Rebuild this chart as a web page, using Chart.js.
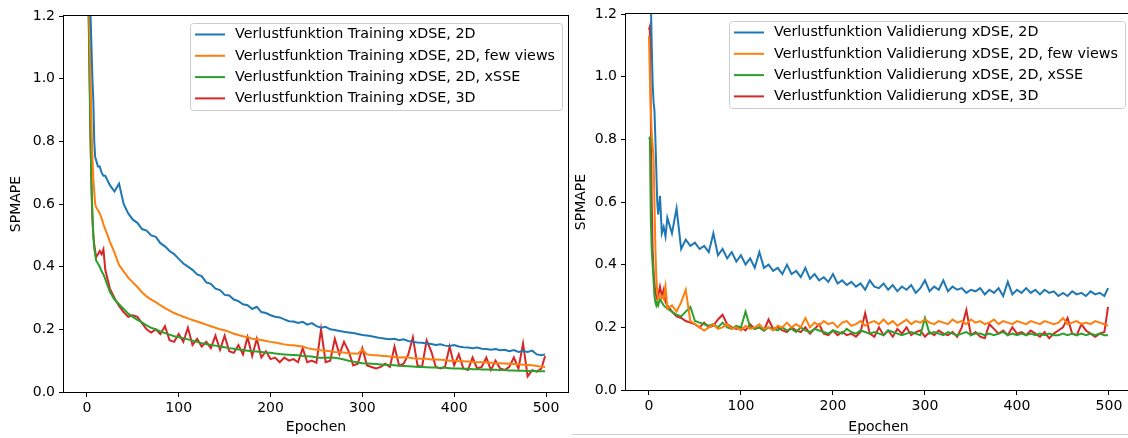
<!DOCTYPE html>
<html>
<head>
<meta charset="utf-8">
<script src="https://cdn.jsdelivr.net/npm/chart.js@4.4.1/dist/chart.umd.min.js"></script>
<style>
  html, body { margin: 0; padding: 0; background: #fff; overflow: hidden; width: 1128px; height: 438px; }
  #left { position: absolute; left: 0; top: 0; }
  #right { position: absolute; left: 570px; top: 0; }
  #rule { position: absolute; left: 572px; top: 434px; width: 556px; height: 1px; background: #d0d0d0; }
</style>
</head>
<body>
<canvas id="left" width="570" height="438"></canvas>
<canvas id="right" width="562" height="438"></canvas>
<div id="rule"></div>
<script>
// epochs sampled from the curves (denser at the start where they drop fast)
const epochs = [0,1,2,3,4,5,6,7,8,9,10, 12,14,16,18,20,
  25,30,35,40,45,50,55,60,65,70,75,80,85,90,95,100,
  105,110,115,120,125,130,135,140,145,150,155,160,165,170,175,180,185,190,195,200,
  205,210,215,220,225,230,235,240,245,250,255,260,265,270,275,280,285,290,295,300,
  305,310,315,320,325,330,335,340,345,350,355,360,365,370,375,380,385,390,395,400,
  405,410,415,420,425,430,435,440,445,450,455,460,465,470,475,480,485,490,495,499];

const xTicks = [0, 100, 200, 300, 400, 500];
const yTicks = [0, 0.2, 0.4, 0.6, 0.8, 1.0, 1.2];

const trainNames = [
  'Verlustfunktion Training xDSE, 2D',
  'Verlustfunktion Training xDSE, 2D, few views',
  'Verlustfunktion Training xDSE, 2D, xSSE',
  'Verlustfunktion Training xDSE, 3D'];
const valNames = [
  'Verlustfunktion Validierung xDSE, 2D',
  'Verlustfunktion Validierung xDSE, 2D, few views',
  'Verlustfunktion Validierung xDSE, 2D, xSSE',
  'Verlustfunktion Validierung xDSE, 3D'];

// training losses
const train2d = [1.7,1.55,1.42,1.3,1.2,1.1,1.0,0.93,0.8,0.75,0.74,
  0.72,0.72,0.70,0.69,0.69,
  0.66,0.64,0.665,0.60,0.57,0.55,0.54,0.52,0.515,0.50,0.495,0.475,0.465,0.45,0.44,0.425,
  0.41,0.40,0.39,0.375,0.37,0.35,0.345,0.33,0.325,0.31,0.308,0.295,0.29,0.28,0.277,0.265,0.272,0.255,0.252,0.245,
  0.24,0.238,0.232,0.226,0.225,0.22,0.224,0.215,0.22,0.21,0.205,0.208,0.2,0.198,0.195,0.192,0.19,0.188,0.185,0.182,
  0.18,0.178,0.175,0.172,0.17,0.168,0.17,0.165,0.168,0.163,0.16,0.158,0.157,0.155,0.153,0.15,0.152,0.148,0.147,0.15,
  0.145,0.143,0.142,0.14,0.142,0.138,0.137,0.135,0.137,0.133,0.135,0.13,0.134,0.128,0.131,0.128,0.132,0.12,0.117,0.12];
const train2dFew = [1.6,1.45,1.3,1.15,1.0,0.85,0.75,0.68,0.64,0.6,0.59,
  0.58,0.57,0.555,0.535,0.52,
  0.48,0.445,0.405,0.385,0.365,0.35,0.335,0.318,0.305,0.295,0.287,0.277,0.268,0.26,0.252,0.246,
  0.24,0.235,0.23,0.225,0.22,0.215,0.21,0.205,0.2,0.197,0.192,0.186,0.182,0.178,0.175,0.17,0.168,0.166,0.163,0.16,
  0.158,0.155,0.152,0.15,0.149,0.147,0.145,0.14,0.137,0.135,0.133,0.132,0.13,0.128,0.127,0.126,0.124,0.123,0.122,0.135,
  0.12,0.118,0.117,0.116,0.115,0.113,0.112,0.11,0.111,0.11,0.108,0.107,0.106,0.106,0.104,0.104,0.103,0.102,0.1,0.1,
  0.098,0.098,0.097,0.096,0.095,0.095,0.094,0.093,0.092,0.092,0.091,0.09,0.089,0.088,0.087,0.086,0.085,0.083,0.081,0.08];
const train2dSse = [1.6,1.38,1.18,0.98,0.8,0.66,0.57,0.5,0.46,0.44,0.42,
  0.41,0.40,0.385,0.375,0.36,
  0.32,0.295,0.28,0.265,0.25,0.24,0.23,0.222,0.213,0.205,0.2,0.193,0.188,0.183,0.178,0.175,
  0.172,0.168,0.164,0.16,0.156,0.153,0.15,0.148,0.145,0.143,0.14,0.138,0.136,0.134,0.132,0.13,0.129,0.128,0.126,0.125,
  0.123,0.121,0.12,0.119,0.118,0.117,0.115,0.114,0.113,0.11,0.109,0.109,0.11,0.109,0.107,0.104,0.1,0.097,0.094,0.092,
  0.091,0.09,0.089,0.088,0.087,0.086,0.085,0.084,0.083,0.082,0.081,0.08,0.08,0.079,0.078,0.078,0.077,0.077,0.076,0.075,
  0.075,0.074,0.074,0.073,0.073,0.072,0.072,0.071,0.071,0.07,0.07,0.069,0.069,0.068,0.068,0.067,0.067,0.066,0.066,0.066];
const train3d = [1.6,1.4,1.2,1.0,0.8,0.65,0.55,0.5,0.47,0.45,0.43,
  0.44,0.45,0.44,0.455,0.39,
  0.33,0.3,0.275,0.255,0.24,0.245,0.24,0.22,0.2,0.19,0.2,0.185,0.21,0.165,0.16,0.185,
  0.16,0.205,0.15,0.17,0.145,0.16,0.14,0.18,0.135,0.18,0.13,0.125,0.15,0.12,0.175,0.115,0.17,0.11,0.13,0.105,
  0.11,0.095,0.11,0.1,0.105,0.095,0.14,0.095,0.1,0.093,0.2,0.095,0.1,0.17,0.12,0.16,0.13,0.085,0.09,0.14,
  0.085,0.08,0.075,0.08,0.09,0.08,0.145,0.085,0.09,0.12,0.175,0.085,0.08,0.165,0.13,0.08,0.075,0.08,0.145,0.085,
  0.12,0.075,0.07,0.11,0.075,0.08,0.11,0.07,0.1,0.075,0.07,0.08,0.11,0.075,0.155,0.05,0.07,0.065,0.075,0.115];

// validation losses
const val2d = [1.35,1.3,1.25,1.1,0.98,0.92,0.89,0.8,0.7,0.6,0.56,
  0.62,0.5,0.52,0.49,0.55,
  0.5,0.58,0.45,0.48,0.46,0.47,0.45,0.46,0.44,0.5,0.43,0.45,0.42,0.44,0.41,0.43,
  0.4,0.42,0.39,0.44,0.39,0.4,0.38,0.39,0.37,0.4,0.37,0.38,0.36,0.39,0.355,0.37,0.35,0.36,0.345,0.37,
  0.34,0.35,0.335,0.345,0.33,0.34,0.32,0.35,0.33,0.325,0.34,0.32,0.335,0.315,0.33,0.32,0.335,0.31,0.325,0.35,
  0.315,0.33,0.32,0.35,0.315,0.33,0.32,0.325,0.31,0.32,0.315,0.325,0.305,0.32,0.31,0.325,0.3,0.345,0.305,0.32,
  0.31,0.325,0.31,0.32,0.305,0.32,0.31,0.315,0.3,0.31,0.3,0.315,0.305,0.31,0.3,0.315,0.305,0.31,0.3,0.325];
const val2dFew = [1.13,1.0,0.9,0.82,0.78,0.74,0.6,0.45,0.36,0.31,0.29,
  0.3,0.3,0.29,0.33,0.26,
  0.27,0.25,0.28,0.32,0.22,0.21,0.2,0.19,0.2,0.21,0.195,0.2,0.21,0.195,0.2,0.19,
  0.205,0.195,0.2,0.21,0.195,0.2,0.19,0.205,0.2,0.215,0.2,0.21,0.2,0.23,0.2,0.215,0.205,0.22,0.21,0.215,
  0.2,0.215,0.22,0.205,0.21,0.22,0.205,0.215,0.22,0.21,0.225,0.21,0.22,0.205,0.215,0.225,0.21,0.22,0.215,0.225,
  0.215,0.21,0.22,0.215,0.21,0.225,0.215,0.22,0.21,0.225,0.215,0.22,0.21,0.215,0.225,0.21,0.22,0.215,0.21,0.22,
  0.215,0.21,0.22,0.215,0.21,0.22,0.215,0.21,0.215,0.23,0.21,0.215,0.22,0.21,0.215,0.21,0.22,0.215,0.21,0.205];
const val2dSse = [0.8,0.805,0.55,0.45,0.4,0.35,0.3,0.28,0.27,0.28,0.27,
  0.29,0.28,0.27,0.265,0.26,
  0.25,0.24,0.235,0.25,0.265,0.22,0.215,0.21,0.205,0.21,0.2,0.215,0.2,0.195,0.205,0.2,
  0.25,0.2,0.195,0.2,0.19,0.2,0.195,0.19,0.2,0.19,0.195,0.185,0.2,0.19,0.185,0.195,0.19,0.185,0.18,0.19,
  0.185,0.18,0.195,0.185,0.18,0.19,0.185,0.18,0.185,0.18,0.175,0.19,0.185,0.18,0.175,0.18,0.185,0.18,0.175,0.23,
  0.18,0.185,0.18,0.175,0.185,0.18,0.175,0.18,0.185,0.175,0.18,0.18,0.175,0.18,0.175,0.18,0.185,0.175,0.18,0.175,
  0.18,0.175,0.18,0.175,0.18,0.175,0.18,0.175,0.175,0.18,0.175,0.18,0.175,0.18,0.175,0.18,0.175,0.18,0.175,0.175];
const val3d = [1.15,1.16,0.9,0.6,0.45,0.38,0.34,0.31,0.3,0.29,0.3,
  0.33,0.3,0.32,0.28,0.27,
  0.25,0.235,0.23,0.22,0.215,0.21,0.2,0.215,0.2,0.205,0.225,0.24,0.21,0.2,0.195,0.2,
  0.19,0.21,0.195,0.2,0.19,0.225,0.195,0.2,0.19,0.185,0.2,0.19,0.185,0.2,0.18,0.195,0.21,0.18,0.175,0.19,
  0.175,0.185,0.175,0.18,0.17,0.185,0.245,0.18,0.17,0.2,0.175,0.19,0.17,0.195,0.18,0.2,0.175,0.185,0.19,0.17,
  0.185,0.175,0.19,0.18,0.175,0.185,0.17,0.2,0.255,0.175,0.185,0.17,0.165,0.21,0.195,0.18,0.19,0.175,0.2,0.18,
  0.185,0.175,0.19,0.18,0.17,0.185,0.165,0.18,0.19,0.2,0.23,0.18,0.175,0.21,0.19,0.18,0.17,0.18,0.185,0.265];

const colors = ['#1f77b4', '#ff7f0e', '#2ca02c', '#d62728'];
const FONT = 'DejaVu Sans';
const FS = 14;

const toPoints = vals => epochs.map((e, i) => ({x: e, y: vals[i]}));

// black box around the plot area, like matplotlib spines
const frame = {
  id: 'frame',
  afterDraw(chart) {
    const {ctx, chartArea: a} = chart;
    ctx.save();
    ctx.strokeStyle = '#000';
    ctx.lineWidth = 1;
    ctx.strokeRect(a.left - 0.5, a.top - 0.5, a.right - a.left + 1, a.bottom - a.top + 1);
    ctx.restore();
  }
};

// legend in a rounded box, upper right inside the plot
const boxLegend = {
  id: 'boxLegend',
  afterDraw(chart) {
    const {ctx, chartArea: a} = chart;
    const sets = chart.data.datasets;
    ctx.save();
    ctx.font = '14.3px "' + FONT + '"';
    const textW = Math.max(...sets.map(d => ctx.measureText(d.label).width));
    const w = Math.round(5 + 30 + 10 + textW + 7), h = 87;
    const x = Math.round(a.right - 6 - w), y = a.top + 7;
    ctx.beginPath();
    ctx.roundRect(x + 0.5, y + 0.5, w, h, 3);
    ctx.fillStyle = 'rgba(255,255,255,0.8)';
    ctx.fill();
    ctx.strokeStyle = '#cccccc';
    ctx.lineWidth = 1;
    ctx.stroke();
    sets.forEach((d, i) => {
      const cy = y + 11.5 + i * 21.3;
      ctx.strokeStyle = d.borderColor;
      ctx.lineWidth = 2;
      ctx.beginPath();
      ctx.moveTo(x + 5, cy);
      ctx.lineTo(x + 35, cy);
      ctx.stroke();
      ctx.fillStyle = '#000';
      ctx.textBaseline = 'middle';
      ctx.fillText(d.label, x + 45, cy);
    });
    ctx.restore();
  }
};

function draw(id, names, series, pad, yWidth, xHeight, yTitlePad) {
  return new Chart(document.getElementById(id), {
    type: 'line',
    data: {
      datasets: series.map((vals, i) => ({
        label: names[i],
        data: toPoints(vals),
        borderColor: colors[i],
        borderWidth: 2,
        pointRadius: 0,
        tension: 0,
        fill: false
      }))
    },
    options: {
      responsive: false,
      animation: false,
      devicePixelRatio: 1,
      layout: {padding: pad},
      plugins: {legend: {display: false}, tooltip: {enabled: false}},
      scales: {
        x: {
          type: 'linear', min: -24.95, max: 523.95,
          afterBuildTicks: s => { s.ticks = xTicks.map(v => ({value: v})); },
          afterFit: s => { s.height = xHeight; },
          ticks: {font: {family: FONT, size: FS}, color: '#000', padding: 3, maxRotation: 0},
          grid: {drawOnChartArea: false, tickLength: 5, tickColor: '#000', tickWidth: 1, color: '#000'},
          border: {display: false},
          title: {display: true, text: 'Epochen', color: '#000',
                  font: {family: FONT, size: FS}, padding: {top: 0, bottom: 2.6}}
        },
        y: {
          type: 'linear', min: 0, max: 1.2,
          afterBuildTicks: s => { s.ticks = yTicks.map(v => ({value: v})); },
          afterFit: s => { s.width = yWidth; },
          ticks: {font: {family: FONT, size: FS}, color: '#000', padding: 4,
                  callback: v => v.toFixed(1)},
          grid: {drawOnChartArea: false, tickLength: 5, tickColor: '#000', tickWidth: 1, color: '#000'},
          border: {display: false},
          title: {display: true, text: 'SPMAPE', color: '#000',
                  font: {family: FONT, size: FS}, padding: {top: yTitlePad, bottom: 0}}
        }
      }
    },
    plugins: [frame, boxLegend]
  });
}

draw('left', trainNames, [train2d, train2dFew, train2dSse, train3d],
     {top: 16, right: 2, left: 0, bottom: 0}, 64, 46, 7.5);
draw('right', valNames, [val2d, val2dFew, val2dSse, val3d],
     {top: 14, right: 1, left: 0, bottom: 0}, 56, 48, 2.6);
</script>
</body>
</html>
